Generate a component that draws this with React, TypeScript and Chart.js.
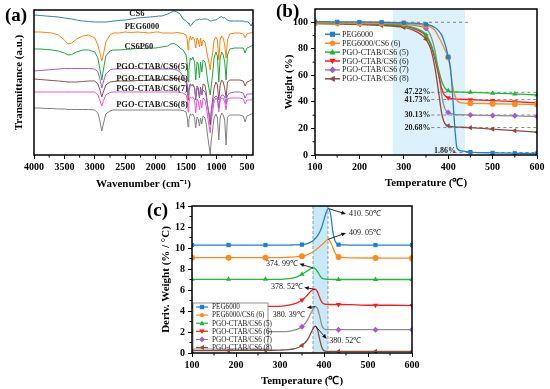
import React, { useEffect, useRef } from 'react';
import { Chart, registerables } from 'chart.js';

Chart.register(...registerables);

const SERIF = "'Liberation Serif', 'Times New Roman', serif";

// ---------------- (a) FTIR ----------------
const WAVENUMBERS = [
  4000, 3900, 3800, 3700, 3600, 3500, 3440, 3380, 3300, 3200, 3100, 3000, 2950, 2920, 2885,
  2860, 2820, 2750, 2700, 2600, 2500, 2400, 2300, 2200, 2100, 2000, 1950, 1900, 1800, 1750,
  1700, 1650, 1600, 1550, 1500, 1480, 1467, 1455, 1430, 1410, 1390, 1360, 1342, 1320, 1300,
  1280, 1262, 1242, 1220, 1190, 1170, 1148, 1125, 1103, 1085, 1060, 1040, 1010, 985, 962,
  940, 915, 890, 865, 842, 820, 780, 700, 620, 560, 530, 500, 460, 430, 400,
];
const FTIR_CS6 = [
  140, 139.5, 139, 138.5, 138, 137, 136.5, 136, 135, 134, 133.5, 133, 133, 133, 133,
  133, 133, 133.5, 134, 134.5, 135, 136, 137, 137.5, 138, 138.5, 139, 139, 141, 142.5,
  144, 143, 141, 136, 134, 133, 132, 131, 129, 130, 132, 134, 135, 135, 135.5,
  136, 135.5, 135.5, 136, 136, 136, 135.5, 135, 134, 134, 134.5, 135, 135, 136, 137,
  138, 138.5, 137, 137.5, 136, 135, 134, 134, 134, 134, 133, 133.5, 132, 129, 133,
];
const FTIR_PEG6000 = [
  123, 123, 122.5, 122, 120, 115, 111, 112, 116, 119, 120, 117, 110, 103, 94,
  100, 113, 120, 122, 122, 123, 122.5, 123, 122.5, 122, 123, 123, 122, 122, 122,
  122, 122.5, 122, 121.5, 120, 115, 105, 113, 119, 115, 118, 115, 107, 117, 115,
  108, 117, 109, 115, 113, 107, 99, 93, 85, 95, 103, 115, 118, 115, 95,
  115, 119, 117, 110, 97, 115, 121, 122, 122, 121, 117, 121, 122, 122, 123,
];
const FTIR_CS6P60 = [
  106, 106, 105.5, 105, 104, 102, 100, 100.5, 103, 105, 105, 103, 97, 87, 75,
  85, 99, 104, 105, 105, 105.5, 106, 106.5, 106.5, 107, 107, 107.5, 108, 109, 111,
  111.5, 110, 107, 105, 100, 90, 73, 85, 97, 95, 98, 93, 75, 93, 91,
  77, 93, 83, 95, 93, 87, 75, 67, 60, 70, 83, 97, 103, 99, 73,
  97, 103, 100, 93, 75, 100, 106, 107, 107, 107, 102, 107, 108, 109, 110,
];
const FTIR_PGO5 = [
  84, 84.5, 85, 85.5, 86, 86.5, 86.5, 86.5, 86.5, 86.5, 86.5, 86, 83, 77, 67,
  73, 81, 85, 86, 86, 86.5, 86.5, 86.5, 86, 86, 86, 86, 86, 86, 86,
  85.5, 85, 83, 79, 75, 70, 60, 67, 71, 69, 70, 67, 57, 67, 65,
  58, 65, 60, 65, 63, 59, 50, 43, 35, 43, 51, 57, 59, 58, 47,
  57, 60, 60, 58, 51, 60, 62, 63, 63, 62, 57, 61, 61, 61, 62,
];
const FTIR_PGO6 = [
  76, 75.5, 75, 74.5, 74, 73.5, 73, 73, 73, 73.5, 74, 74, 71, 66, 58,
  63, 70, 73, 73.5, 74, 74, 74, 74.5, 74.5, 75, 75, 75, 75, 75.5, 76,
  76.5, 76.5, 76, 75, 73, 67, 55, 63, 71, 70, 71, 67, 55, 69, 67,
  57, 68, 60, 71, 70, 63, 50, 40, 30, 45, 57, 67, 73, 70, 55,
  70, 75, 73, 67, 57, 73, 75, 75, 75, 74, 69, 73, 74, 75, 76,
];
const FTIR_PGO7 = [
  63, 63, 63, 63, 63, 63, 63, 63, 63, 63, 63, 63, 60, 55, 49,
  54, 60, 62.5, 63, 63, 63, 63, 63, 63, 63, 63, 63, 63, 63, 63,
  63, 63, 62.5, 62, 60, 55, 43, 52, 58, 57, 58, 55, 42, 56, 54,
  45, 55, 47, 57, 55, 49, 40, 30, 22, 35, 45, 53, 57, 55, 43,
  55, 57, 57, 53, 45, 56, 57, 57, 57, 56, 51, 55, 55, 55, 56,
];
const FTIR_PGO8 = [
  47, 47, 46.5, 46.5, 46, 46, 45.5, 45.5, 45.5, 45.5, 45.5, 45, 42, 35, 24,
  31, 41, 44, 45, 45, 45, 45, 45, 45, 45, 45, 45, 45, 45, 45,
  45, 45, 45, 44.5, 43, 37, 28, 35, 41, 40, 41, 37, 27, 38, 36,
  29, 37, 31, 39, 37, 31, 20, 10, 1, 15, 27, 37, 41, 37, 15,
  37, 42, 40, 35, 10, 38, 40, 40, 40, 39, 33, 39, 40, 41, 42,
];
const FTIR_NAMES = ['CS6', 'PEG6000', 'CS6P60', 'PGO-CTAB/CS6(5)', 'PGO-CTAB/CS6(6)', 'PGO-CTAB/CS6(7)', 'PGO-CTAB/CS6(8)'];
const FTIR_TICKS = [4000, 3500, 3000, 2500, 2000, 1500, 1000, 500];
const FTIR_COLORS = ['#2b7fc3', '#ff800e', '#1ea63a', '#9a5fd2', '#8c5148', '#f255d2', '#808080'];
// label anchor positions (wavenumber, a.u.) — layout only
const FTIR_LABEL_POS = [[2308, 141], [2226, 128], [2275, 108], [2061, 88], [2061, 76], [2061, 66], [2061, 50]];

// ---------------- (b) TGA ----------------
const TGA_TEMPS = [100, 150, 200, 250, 300, 320, 340, 350, 360, 370, 380, 385, 390, 395, 400, 405, 410, 415, 420, 430, 450, 500, 550, 600];
const TGA_PEG6000 = [100.5, 100.3, 100.2, 100, 99.6, 99.3, 98.8, 98.4, 97.6, 96, 93, 90.5, 86.5, 81, 74, 66, 45, 20, 5, 3, 2.2, 1.6, 1.3, 1.1];
const TGA_PEG6000_CS6 = [99.5, 99.5, 99.3, 99.2, 99, 98.7, 98, 97.5, 96.5, 94, 88, 85, 81, 77.5, 73.5, 64, 52, 45, 41, 39.3, 38.9, 38.6, 38.3, 38];
const TGA_PGO5 = [99.5, 99.3, 99, 98.6, 97.6, 96.2, 93.5, 90.5, 84.5, 74.5, 62, 56, 52, 49.5, 48.5, 48, 47.8, 47.6, 47.5, 47.4, 47.2, 46.6, 46, 45.2];
const TGA_PGO6 = [99.3, 99.1, 98.8, 98.3, 97.3, 95.6, 92.5, 89.8, 83.5, 72.5, 58, 50.5, 46, 44, 43.2, 42.8, 42.5, 42.3, 42.1, 42, 41.7, 41, 40.2, 39.2];
const TGA_PGO7 = [99.5, 99.3, 99.2, 99, 98.6, 97.9, 96.7, 95.3, 90.5, 79, 58, 46, 37.5, 33.5, 32, 31.3, 30.9, 30.6, 30.4, 30.3, 30.1, 29.8, 29.5, 29];
const TGA_PGO8 = [99, 98.7, 98.3, 97.6, 96.2, 94.3, 90.5, 87.2, 80.5, 66, 43.5, 32, 25.5, 22.8, 22, 21.6, 21.3, 21.1, 21, 20.9, 20.6, 19.5, 18.3, 17.2];
const TGA_MARKER_TEMPS = [100, 150, 200, 250, 300, 350, 400, 450, 500, 550, 600];
const TGA_RESIDUES = [47.22, 41.73, 30.13, 20.68, 1.86];
const TGA_SHADE = [275, 438];

// ---------------- (c) DTG ----------------
const DTG_TEMPS = [100, 150, 183, 217, 250, 267, 300, 320, 330, 340, 350, 355, 360, 365, 370, 375, 380, 385, 390, 395, 400, 405, 410, 415, 420, 425, 430, 433, 440, 460, 500, 517, 550, 600];
const DTG_PEG6000 = [
  10.28, 10.28, 10.28, 10.28, 10.28, 10.28, 10.28, 10.28, 10.29, 10.3,
  10.32, 10.35, 10.4, 10.47, 10.56, 10.7, 10.9, 11.15, 11.5, 12.0,
  12.7, 13.4, 13.75, 13.2, 11.6, 10.7, 10.38, 10.32, 10.29, 10.28,
  10.28, 10.28, 10.28, 10.28,
];
const DTG_PEG6000_CS6 = [
  9.08, 9.08, 9.08, 9.08, 9.08, 9.08, 9.08, 9.12, 9.14, 9.17,
  9.22, 9.27, 9.33, 9.42, 9.52, 9.64, 9.78, 9.95, 10.12, 10.3,
  10.5, 10.7, 10.82, 10.55, 10.05, 9.55, 9.22, 9.15, 9.1, 9.06,
  9.05, 9.05, 9.04, 9.03,
];
const DTG_PGO5 = [
  7.02, 7.02, 7.02, 7.02, 7.02, 7.02, 7.02, 7.08, 7.15, 7.28,
  7.5, 7.62, 7.76, 7.9, 8.03, 8.1, 8.02, 7.78, 7.42, 7.15,
  7.06, 7.03, 7.02, 7.01, 7.0, 7.0, 7.0, 7.0, 7.0, 7.0,
  7.0, 7.0, 7.0, 7.0,
];
const DTG_PGO6 = [
  4.45, 4.45, 4.45, 4.45, 4.45, 4.45, 4.45, 4.55, 4.65, 4.8,
  5.05, 5.22, 5.42, 5.65, 5.88, 6.03, 6.07, 5.85, 5.3, 4.85,
  4.68, 4.63, 4.62, 4.62, 4.62, 4.62, 4.62, 4.62, 4.62, 4.6,
  4.55, 4.55, 4.55, 4.52,
];
const DTG_PGO7 = [
  2.03, 2.03, 2.03, 2.03, 2.03, 2.03, 2.03, 2.05, 2.15, 2.28,
  2.5, 2.7, 2.98, 3.35, 3.78, 4.18, 4.42, 4.25, 3.55, 2.65,
  2.3, 2.23, 2.22, 2.22, 2.22, 2.22, 2.22, 2.22, 2.22, 2.22,
  2.22, 2.22, 2.22, 2.22,
];
const DTG_PGO8 = [
  0.22, 0.22, 0.24, 0.25, 0.26, 0.26, 0.28, 0.32, 0.38, 0.5,
  0.72, 0.9, 1.12, 1.45, 1.88, 2.3, 2.56, 2.25, 1.35, 0.55,
  0.22, 0.16, 0.15, 0.15, 0.15, 0.15, 0.15, 0.15, 0.15, 0.15,
  0.15, 0.15, 0.15, 0.15,
];
const DTG_MARKER_TEMPS = [100, 183, 267, 350, 433, 517, 600];
const DTG_PEAK_T = [410.5, 409.05, 374.99, 378.52, 380.39, 380.52];
const DTG_PEAK_V = [13.75, 10.82, 8.1, 6.07, 4.42, 2.56];
const DTG_PEAK_LABELS = ['410. 50℃', '409. 05℃', '374. 99℃', '378. 52℃', '380. 39℃', '380. 52℃'];
const DTG_SHADE = [375, 409];
// arrow tip / text anchors in data units — layout only
const DTG_ARROW_LAYOUT = [
  { tip: [450, 13.24], text: [457, 13.24], align: 'left' },
  { tip: [450, 11.43], text: [457, 11.43], align: 'left' },
  { tip: [344, 8.5], text: [341, 8.5], align: 'right' },
  { tip: [355, 6.25], text: [352, 6.25], align: 'right' },
  { tip: [361, 4.3], text: [356, 3.62], align: 'right' },
  { tip: [406, 1.35], text: [412, 1.14], align: 'left' },
];

const SERIES_NAMES = ['PEG6000', 'PEG6000/CS6 (6)', 'PGO-CTAB/CS6 (5)', 'PGO-CTAB/CS6 (6)', 'PGO-CTAB/CS6 (7)', 'PGO-CTAB/CS6 (8)'];
const LINE_COLORS = ['#1f80d2', '#ff8a1c', '#1cb83a', '#ff1a1a', '#8e8e8e', '#8b4b3e'];
const MARK_COLORS = ['#1f80d2', '#ff8a1c', '#1cb83a', '#ff1a1a', '#a45ad8', '#8b4b3e'];
const MARK_STYLES = ['rect', 'circle', 'triangle', 'triangle', 'rectRot', 'triangle'];
const MARK_ROT = [0, 0, 0, 180, 0, 270];

// ---------------- helpers ----------------
function drawMarker(ctx: any, style: string, x: number, y: number, r: number, rot: number, color: string) {
  ctx.save();
  ctx.translate(x, y);
  ctx.rotate((rot * Math.PI) / 180);
  ctx.fillStyle = color;
  ctx.beginPath();
  if (style === 'rect') ctx.rect(-r, -r, 2 * r, 2 * r);
  else if (style === 'circle') ctx.arc(0, 0, r, 0, Math.PI * 2);
  else if (style === 'triangle') {
    const s = r * 1.25;
    ctx.moveTo(0, -s);
    ctx.lineTo(s * 0.95, s * 0.7);
    ctx.lineTo(-s * 0.95, s * 0.7);
    ctx.closePath();
  } else if (style === 'rectRot') {
    const s = r * 1.3;
    ctx.moveTo(0, -s);
    ctx.lineTo(s, 0);
    ctx.lineTo(0, s);
    ctx.lineTo(-s, 0);
    ctx.closePath();
  }
  ctx.fill();
  ctx.restore();
}

function arrow(ctx: any, x1: number, y1: number, x2: number, y2: number) {
  const ang = Math.atan2(y2 - y1, x2 - x1);
  const h = 5;
  ctx.beginPath();
  ctx.moveTo(x1, y1);
  ctx.lineTo(x2 - Math.cos(ang) * h * 0.8, y2 - Math.sin(ang) * h * 0.8);
  ctx.stroke();
  ctx.beginPath();
  ctx.moveTo(x2, y2);
  ctx.lineTo(x2 - h * Math.cos(ang - 0.4), y2 - h * Math.sin(ang - 0.4));
  ctx.lineTo(x2 - h * Math.cos(ang + 0.4), y2 - h * Math.sin(ang + 0.4));
  ctx.closePath();
  ctx.fill();
}

const framePlugin = {
  id: 'frame',
  afterDatasetsDraw(chart: any) {
    const { ctx, chartArea: a, scales } = chart;
    ctx.save();
    ctx.strokeStyle = '#000';
    ctx.lineWidth = 1.5;
    ctx.strokeRect(a.left, a.top, a.right - a.left, a.bottom - a.top);
    // minor ticks halfway between major ticks
    ctx.lineWidth = 1;
    ctx.beginPath();
    const xs = scales.x;
    const xt = xs.ticks.map((t: any) => t.value);
    for (let i = 0; i < xt.length - 1; i++) {
      const px = xs.getPixelForValue((xt[i] + xt[i + 1]) / 2);
      ctx.moveTo(px, a.bottom);
      ctx.lineTo(px, a.bottom + 2.5);
    }
    const ys = scales.y;
    if (ys.options.ticks.display !== false) {
      const yt = ys.ticks.map((t: any) => t.value);
      for (let i = 0; i < yt.length - 1; i++) {
        const py = ys.getPixelForValue((yt[i] + yt[i + 1]) / 2);
        ctx.moveTo(a.left, py);
        ctx.lineTo(a.left - 2.5, py);
      }
    }
    ctx.stroke();
    ctx.restore();
  },
};

const tickFont = (size: number) => ({ family: SERIF, size, weight: 'bold' as const });
const titleFont = { family: SERIF, size: 11, weight: 'bold' as const };

function xAxis(min: number, max: number, step: number, height: number, title: string, titlePadBottom: number, extra: any = {}) {
  return {
    type: 'linear',
    min,
    max,
    afterFit: (s: any) => { s.height = height; },
    ticks: { stepSize: step, includeBounds: false, font: tickFont(10), color: '#000', padding: 2, maxRotation: 0, autoSkip: false, callback: (v: any) => String(v) },
    grid: { drawOnChartArea: false, drawTicks: true, tickLength: 4, color: '#000', lineWidth: 1 },
    border: { display: false },
    title: { display: true, text: title, font: titleFont, color: '#000', padding: { top: 0, bottom: titlePadBottom } },
    ...extra,
  };
}

function yAxis(min: number, max: number, step: number, width: number, title: string, titlePadTop: number) {
  return {
    type: 'linear',
    min,
    max,
    afterFit: (s: any) => { s.width = width; },
    ticks: { stepSize: step, includeBounds: false, font: tickFont(10), color: '#000', padding: 3, callback: (v: any) => String(v) },
    grid: { drawOnChartArea: false, drawTicks: true, tickLength: 4, color: '#000', lineWidth: 1 },
    border: { display: false },
    title: { display: true, text: title, font: titleFont, color: '#000', padding: { top: titlePadTop, bottom: 0 } },
  };
}

// ---------------- configs ----------------
function makeFtir() {
  const series = [FTIR_CS6, FTIR_PEG6000, FTIR_CS6P60, FTIR_PGO5, FTIR_PGO6, FTIR_PGO7, FTIR_PGO8];
  const labelPlugin = {
    id: 'ftirLabels',
    afterDatasetsDraw(chart: any) {
      const { ctx, scales } = chart;
      ctx.save();
      ctx.font = `bold 8.5px ${SERIF}`;
      ctx.fillStyle = '#222';
      ctx.textAlign = 'center';
      ctx.textBaseline = 'middle';
      FTIR_NAMES.forEach((n, i) => {
        const [w, t] = FTIR_LABEL_POS[i];
        ctx.fillText(n, scales.x.getPixelForValue(w), scales.y.getPixelForValue(t));
      });
      ctx.restore();
    },
  };
  return {
    type: 'line',
    data: {
      datasets: series.map((vals, i) => ({
        label: FTIR_NAMES[i],
        data: WAVENUMBERS.map((w, j) => ({ x: w, y: vals[j] })),
        borderColor: FTIR_COLORS[i],
        borderWidth: 1,
        pointRadius: 0,
        tension: 0,
      })),
    },
    options: {
      responsive: false,
      animation: false,
      devicePixelRatio: 1,
      layout: { padding: { left: 0, top: 10, right: 22, bottom: 0 } },
      plugins: { legend: { display: false }, tooltip: { enabled: false } },
      scales: {
        x: xAxis(400, 4000, 500, 40, 'Wavenumber (cm⁻¹)', 4, {
          reverse: true,
          afterBuildTicks: (s: any) => { s.ticks = FTIR_TICKS.map((v) => ({ value: v })); },
        }),
        y: {
          type: 'linear',
          min: 0,
          max: 145,
          afterFit: (s: any) => { s.width = 34; },
          ticks: { display: false },
          grid: { display: false },
          border: { display: false },
          title: { display: true, text: 'Transmittance (a.u.)', font: titleFont, color: '#000', padding: { top: 13, bottom: 0 } },
        },
      },
    },
    plugins: [labelPlugin, framePlugin],
  };
}

function seriesDatasets(temps: number[], series: number[][], markerTemps: number[]) {
  return series.map((vals, i) => ({
    label: SERIES_NAMES[i],
    data: temps.map((t, j) => ({ x: t, y: vals[j] })),
    borderColor: LINE_COLORS[i],
    borderWidth: 1.3,
    cubicInterpolationMode: 'monotone',
    pointStyle: MARK_STYLES[i],
    pointRotation: MARK_ROT[i],
    pointBackgroundColor: MARK_COLORS[i],
    pointBorderColor: MARK_COLORS[i],
    pointBorderWidth: 0,
    pointRadius: (c: any) => (c.raw && markerTemps.includes(c.raw.x) ? 3 : 0),
  }));
}

function makeTga() {
  const series = [TGA_PEG6000, TGA_PEG6000_CS6, TGA_PGO5, TGA_PGO6, TGA_PGO7, TGA_PGO8];
  const bgPlugin = {
    id: 'tgaBg',
    beforeDatasetsDraw(chart: any) {
      const { ctx, chartArea: a, scales } = chart;
      const x = scales.x, y = scales.y;
      ctx.save();
      ctx.fillStyle = '#ddf1fc';
      const x0 = x.getPixelForValue(TGA_SHADE[0]);
      const x1 = x.getPixelForValue(TGA_SHADE[1]);
      ctx.fillRect(x0, a.top, x1 - x0, a.bottom - a.top);
      ctx.strokeStyle = '#666';
      ctx.lineWidth = 0.8;
      ctx.setLineDash([3, 3]);
      ctx.beginPath();
      ctx.moveTo(x.getPixelForValue(100), y.getPixelForValue(100));
      ctx.lineTo(x.getPixelForValue(445), y.getPixelForValue(100));
      TGA_RESIDUES.forEach((r, i) => {
        const from = i < 4 ? 362 : 412;
        ctx.moveTo(x.getPixelForValue(from), y.getPixelForValue(r));
        ctx.lineTo(x.getPixelForValue(600), y.getPixelForValue(r));
      });
      ctx.stroke();
      ctx.restore();
    },
    afterDatasetsDraw(chart: any) {
      const { ctx, chartArea: a, scales } = chart;
      const x = scales.x, y = scales.y;
      ctx.save();
      ctx.font = `bold 8px ${SERIF}`;
      ctx.fillStyle = '#222';
      ctx.textBaseline = 'middle';
      TGA_RESIDUES.forEach((r, i) => {
        const txt = `${r.toFixed(2)}%`;
        if (i < 4) {
          ctx.textAlign = 'right';
          ctx.fillText(txt, x.getPixelForValue(360), y.getPixelForValue(r));
        } else {
          ctx.textAlign = 'center';
          ctx.fillText(txt, x.getPixelForValue(393), y.getPixelForValue(r + 1.3));
        }
      });
      // legend
      ctx.font = `8px ${SERIF}`;
      ctx.textAlign = 'left';
      chart.data.datasets.forEach((ds: any, i: number) => {
        const ly = a.top + 25.3 + i * 8.9;
        const lx = a.left + 10;
        ctx.strokeStyle = ds.borderColor;
        ctx.lineWidth = 1.5;
        ctx.beginPath();
        ctx.moveTo(lx, ly);
        ctx.lineTo(lx + 15, ly);
        ctx.stroke();
        drawMarker(ctx, ds.pointStyle, lx + 7.5, ly, 2.6, ds.pointRotation, ds.pointBackgroundColor);
        ctx.fillStyle = '#222';
        ctx.fillText(ds.label, lx + 17, ly + 0.5);
      });
      ctx.restore();
    },
  };
  return {
    type: 'line',
    data: { datasets: seriesDatasets(TGA_TEMPS, series, TGA_MARKER_TEMPS) },
    options: {
      responsive: false,
      animation: false,
      devicePixelRatio: 1,
      layout: { padding: { left: 0, top: 9, right: 13, bottom: 0 } },
      plugins: { legend: { display: false }, tooltip: { enabled: false } },
      scales: {
        x: xAxis(100, 600, 100, 40, 'Temperature (℃)', 5),
        y: yAxis(0, 110, 20, 40, 'Weight (%)', 7.5),
      },
    },
    plugins: [bgPlugin, framePlugin],
  };
}

function makeDtg() {
  const series = [DTG_PEG6000, DTG_PEG6000_CS6, DTG_PGO5, DTG_PGO6, DTG_PGO7, DTG_PGO8];
  const plugin = {
    id: 'dtgAnn',
    beforeDatasetsDraw(chart: any) {
      const { ctx, chartArea: a, scales } = chart;
      const x = scales.x;
      const x0 = x.getPixelForValue(DTG_SHADE[0]);
      const x1 = x.getPixelForValue(DTG_SHADE[1]);
      ctx.save();
      ctx.fillStyle = '#c8e9f8';
      ctx.fillRect(x0, a.top, x1 - x0, a.bottom - a.top);
      ctx.strokeStyle = '#999';
      ctx.lineWidth = 1;
      ctx.setLineDash([3, 2]);
      ctx.beginPath();
      ctx.moveTo(x0, a.top);
      ctx.lineTo(x0, a.bottom);
      ctx.moveTo(x1, a.top);
      ctx.lineTo(x1, a.bottom);
      ctx.stroke();
      ctx.restore();
    },
    afterDatasetsDraw(chart: any) {
      const { ctx, chartArea: a, scales } = chart;
      const x = scales.x, y = scales.y;
      ctx.save();
      ctx.strokeStyle = '#111';
      ctx.fillStyle = '#111';
      ctx.lineWidth = 0.9;
      ctx.font = `8px ${SERIF}`;
      ctx.textBaseline = 'middle';
      DTG_PEAK_T.forEach((t, i) => {
        const L = DTG_ARROW_LAYOUT[i];
        arrow(ctx, x.getPixelForValue(t), y.getPixelForValue(DTG_PEAK_V[i]), x.getPixelForValue(L.tip[0]), y.getPixelForValue(L.tip[1]));
        ctx.textAlign = L.align;
        ctx.fillText(DTG_PEAK_LABELS[i], x.getPixelForValue(L.text[0]), y.getPixelForValue(L.text[1]));
      });
      // legend box
      const bx = a.left + 1, by = a.top + 97, bw = 75, bh = 46;
      ctx.fillStyle = '#fff';
      ctx.fillRect(bx, by, bw, bh);
      ctx.strokeStyle = '#777';
      ctx.lineWidth = 0.8;
      ctx.strokeRect(bx, by, bw, bh);
      ctx.font = `7.2px ${SERIF}`;
      ctx.textAlign = 'left';
      chart.data.datasets.forEach((ds: any, i: number) => {
        const ly = by + 4 + i * 8.1;
        const lx = a.left + 4;
        ctx.strokeStyle = ds.borderColor;
        ctx.lineWidth = 1.2;
        ctx.beginPath();
        ctx.moveTo(lx, ly);
        ctx.lineTo(lx + 12, ly);
        ctx.stroke();
        drawMarker(ctx, ds.pointStyle, lx + 6, ly, 2.2, ds.pointRotation, ds.pointBackgroundColor);
        ctx.fillStyle = '#222';
        ctx.fillText(ds.label, lx + 16, ly + 0.5);
      });
      ctx.restore();
    },
  };
  return {
    type: 'line',
    data: { datasets: seriesDatasets(DTG_TEMPS, series, DTG_MARKER_TEMPS) },
    options: {
      responsive: false,
      animation: false,
      devicePixelRatio: 1,
      layout: { padding: { left: 0, top: 11, right: 28, bottom: 0 } },
      plugins: { legend: { display: false }, tooltip: { enabled: false } },
      scales: {
        x: xAxis(100, 600, 100, 36, 'Temperature (℃)', 1.4),
        y: yAxis(0, 14, 2, 52, 'Deriv. Weight (% / °C)', 19.4),
      },
    },
    plugins: [plugin, framePlugin],
  };
}

function ChartBox({ make, left, top, width, height }: any) {
  const ref = useRef<HTMLCanvasElement | null>(null);
  useEffect(() => {
    const chart = new Chart(ref.current as any, make());
    return () => chart.destroy();
  }, []);
  return <canvas ref={ref} width={width} height={height} style={{ position: 'absolute', left, top, width, height }} />;
}

const panelLabel = (text: string, left: number, top: number) => (
  <div style={{ position: 'absolute', left, top, font: `bold 19px ${SERIF}`, lineHeight: '20px', color: '#000' }}>{text}</div>
);

export default function App() {
  return (
    <div style={{ position: 'absolute', left: 0, top: 0, width: 550, height: 389, background: '#fff', overflow: 'hidden' }}>
      <ChartBox make={makeFtir} left={0} top={0} width={275} height={195} />
      <ChartBox make={makeTga} left={275} top={0} width={275} height={195} />
      <ChartBox make={makeDtg} left={140} top={195} width={300} height={194} />
      {panelLabel('(a)', 5, 5)}
      {panelLabel('(b)', 276, 1)}
      {panelLabel('(c)', 147, 200)}
    </div>
  );
}
